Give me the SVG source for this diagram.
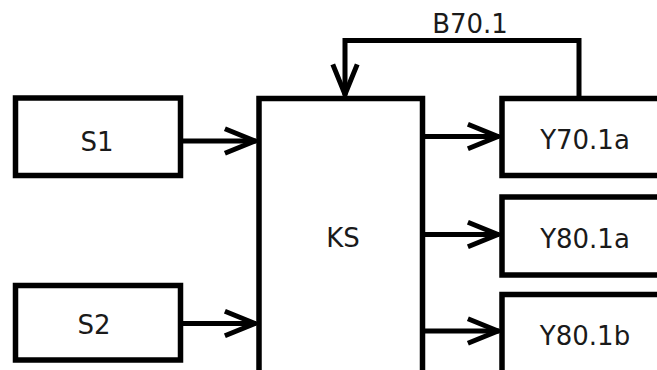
<svg xmlns="http://www.w3.org/2000/svg" width="657" height="370" viewBox="0 0 657 370">
  <style>
    .box { fill: #ffffff; stroke: #000000; stroke-width: 5.5; }
    .conn { fill: none; stroke: #000000; stroke-width: 5; }
    .lbl { font-family: "DejaVu Sans", Verdana, sans-serif; font-size: 26px; fill: #1a1a1a; text-anchor: middle; }
  </style>
  <defs>
    <marker id="arr" markerUnits="userSpaceOnUse" markerWidth="40" markerHeight="40" viewBox="-32 -16 36 32" refX="0" refY="0" orient="auto" overflow="visible">
      <path d="M-28,-11 L-1,0 L-28,11" fill="none" stroke="#000000" stroke-width="4.5" stroke-linejoin="miter"/>
    </marker>
  </defs>
  <rect width="657" height="370" fill="#ffffff"/>
  <g id="connectors">
    <path class="conn" d="M180.5,141 H256" marker-end="url(#arr)"/>
    <path class="conn" d="M180.5,323.5 H256" marker-end="url(#arr)"/>
    <path class="conn" d="M422.5,136.5 H499" marker-end="url(#arr)"/>
    <path class="conn" d="M422.5,234.5 H499" marker-end="url(#arr)"/>
    <path class="conn" d="M422.5,331 H499" marker-end="url(#arr)"/>
    <path class="conn" d="M579,98.5 V40.5 H345 V95.5" marker-end="url(#arr)"/>
    <text class="lbl" x="470" y="33">B70.1</text>
  </g>
  <g id="S1">
    <rect class="box" x="15.5" y="98" width="165" height="77.5"/>
    <text class="lbl" x="97" y="151">S1</text>
  </g>
  <g id="S2">
    <rect class="box" x="15.5" y="285.5" width="165" height="74.5"/>
    <text class="lbl" x="94" y="334">S2</text>
  </g>
  <g id="KS">
    <rect class="box" x="259" y="98.5" width="163.5" height="300"/>
    <text class="lbl" x="343" y="247">KS</text>
  </g>
  <g id="Y70.1a">
    <rect class="box" x="502" y="98.5" width="200" height="77"/>
    <text class="lbl" x="585" y="149">Y70.1a</text>
  </g>
  <g id="Y80.1a">
    <rect class="box" x="502" y="197" width="200" height="78"/>
    <text class="lbl" x="585" y="248">Y80.1a</text>
  </g>
  <g id="Y80.1b">
    <rect class="box" x="502" y="294.5" width="200" height="100"/>
    <text class="lbl" x="585" y="345">Y80.1b</text>
  </g>
</svg>
